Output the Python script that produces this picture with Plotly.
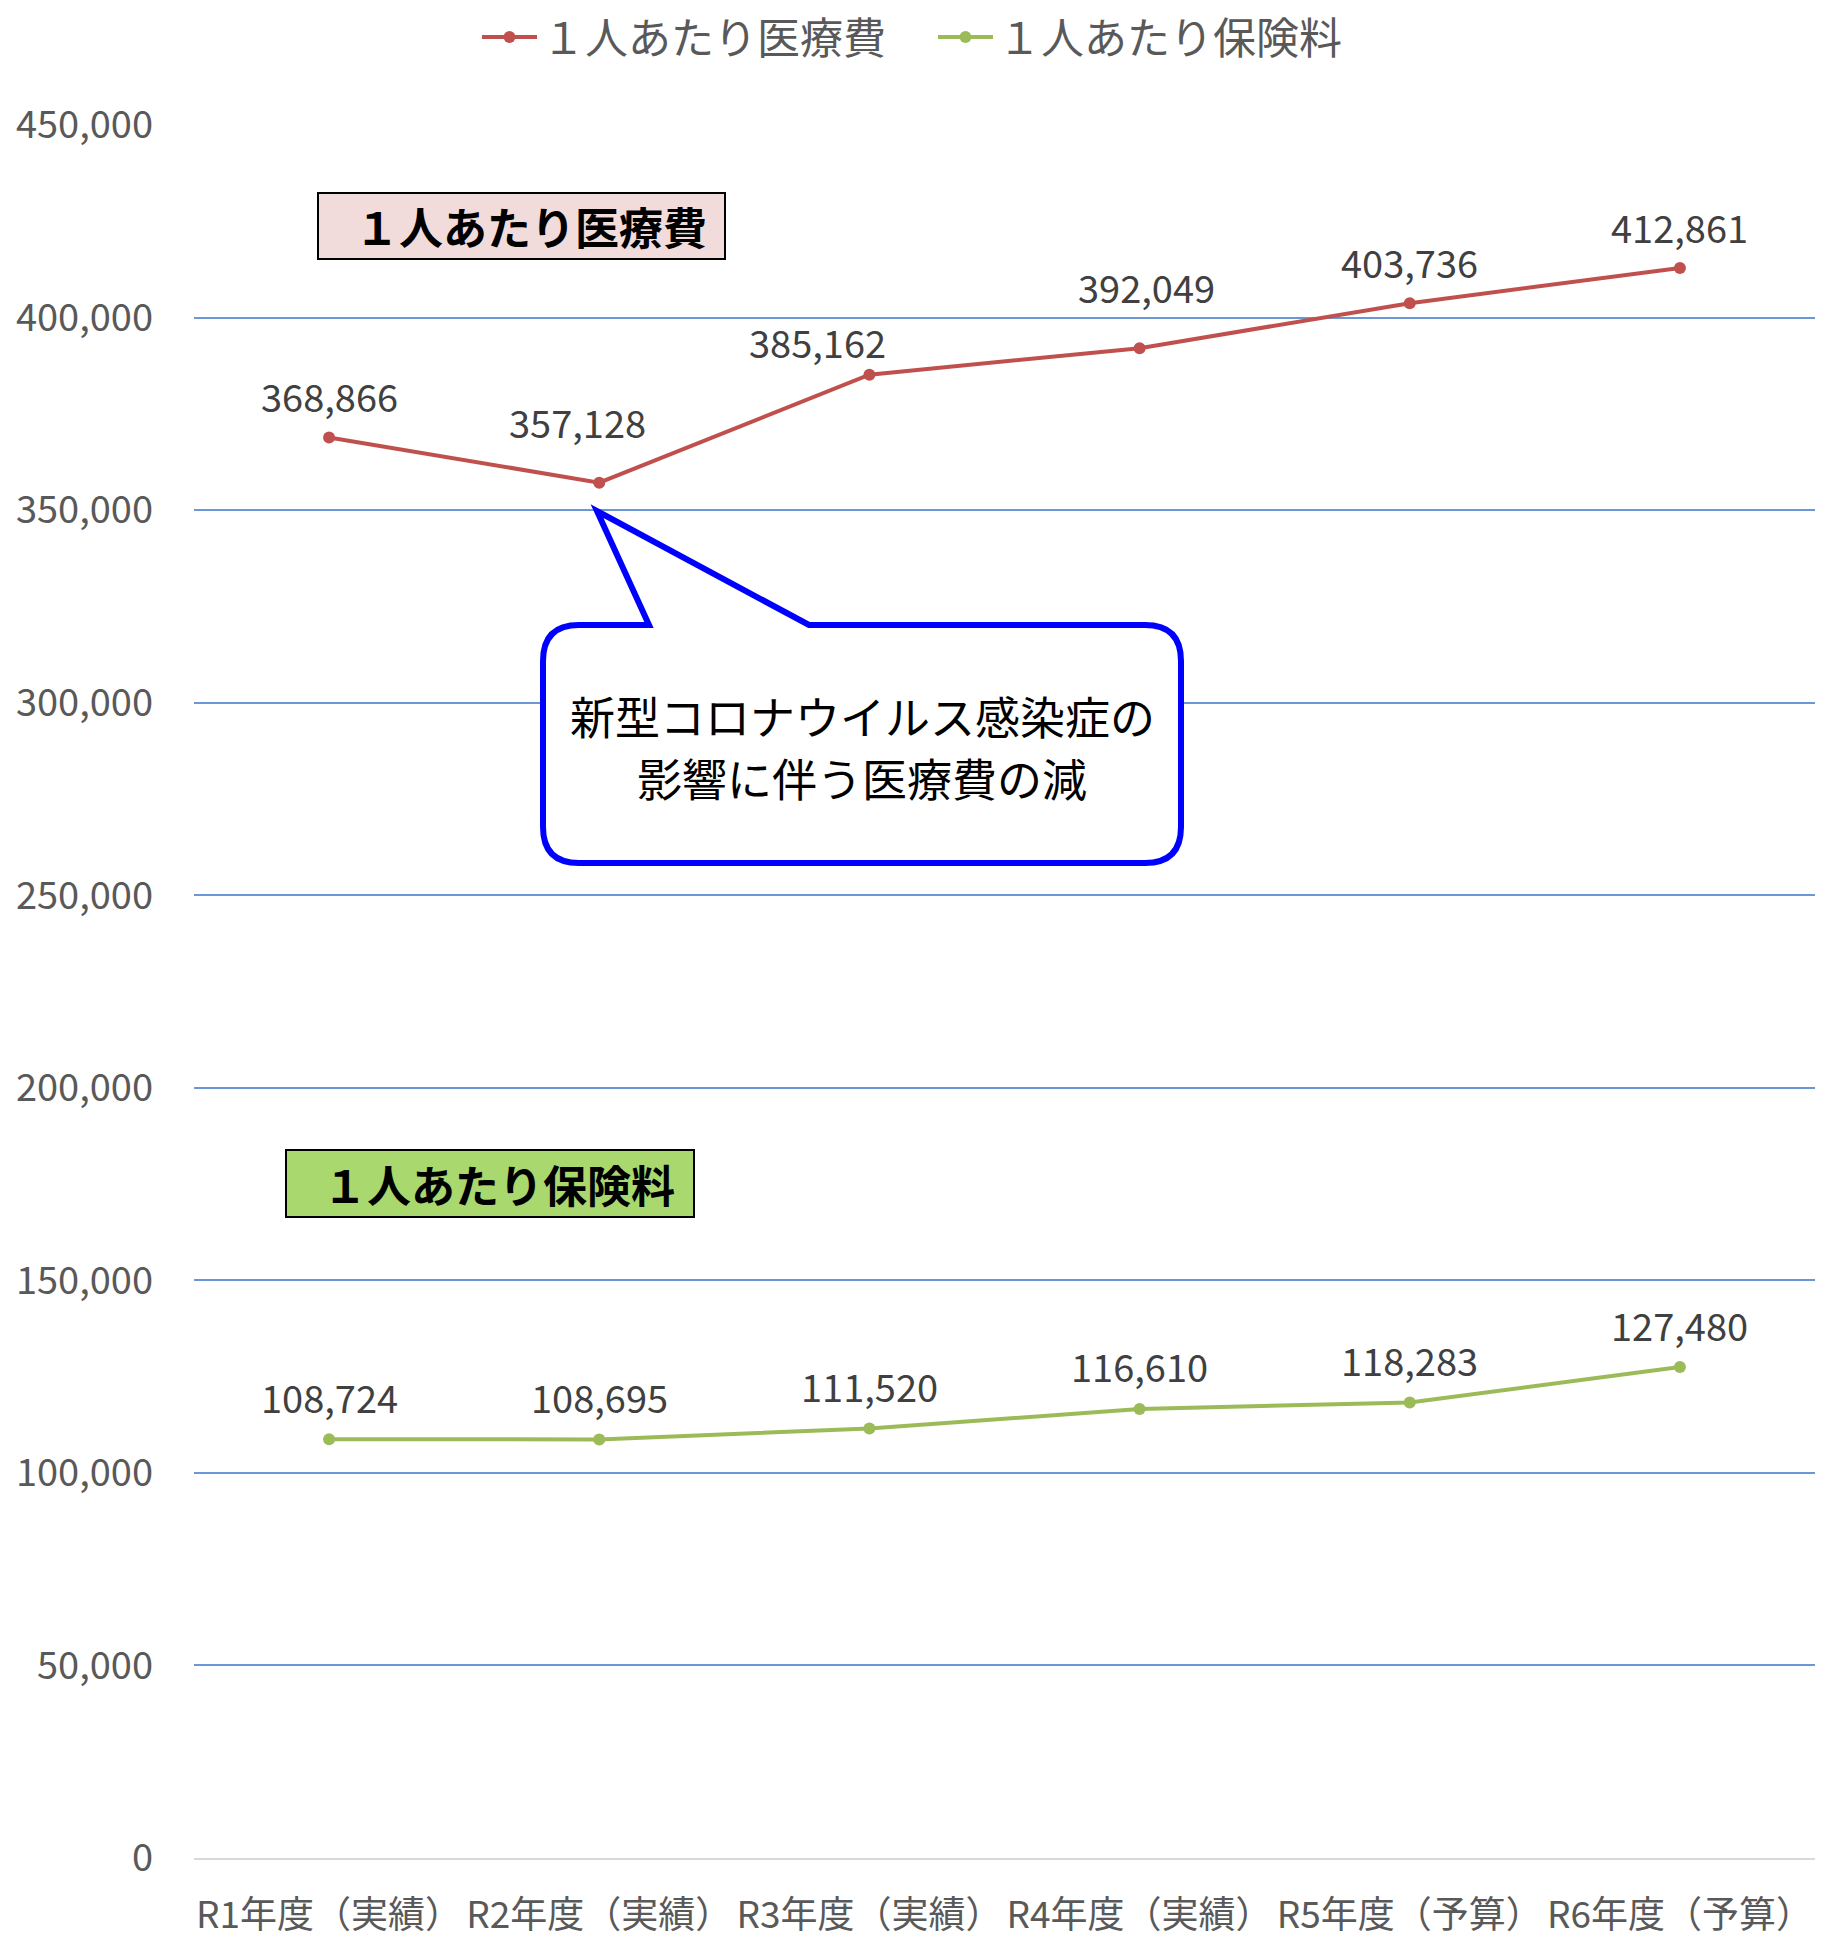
import plotly.graph_objects as go

# ---- data ----
categories = ["R1年度（実績）", "R2年度（実績）", "R3年度（実績）",
              "R4年度（実績）", "R5年度（予算）", "R6年度（予算）"]
medical_cost = [368866, 357128, 385162, 392049, 403736, 412861]
premium = [108724, 108695, 111520, 116610, 118283, 127480]
series_names = ["１人あたり医療費", "１人あたり保険料"]
y_ticks = [0, 50000, 100000, 150000, 200000, 250000, 300000, 350000, 400000, 450000]
callout_lines = ["新型コロナウイルス感染症の", "影響に伴う医療費の減"]

# ---- layout geometry (pixels) ----
W, H = 1827, 1939
L, R, T, B = 194, 1815, 125, 1858
RED, GREEN = "#c0504d", "#9bbb59"
FONT = "Noto Sans CJK JP"


def px(x):
    return (x - L) / (R - L)


def py(y):
    return (B - y) / (B - T)


# label offsets (pixels) for the red series, as in the original
red_dx = [0, -22, -52, 7, 0, 0]
red_dy = [42, 61, 33, 62, 42, 42]
green_dy = [43, 43, 43, 43, 43, 43]

fig = go.Figure()
fig.add_trace(go.Scatter(x=categories, y=medical_cost, name=series_names[0],
                         mode="lines+markers",
                         line=dict(color=RED, width=4),
                         marker=dict(color=RED, size=12)))
fig.add_trace(go.Scatter(x=categories, y=premium, name=series_names[1],
                         mode="lines+markers",
                         line=dict(color=GREEN, width=4),
                         marker=dict(color=GREEN, size=12)))

LABEL_FONT = dict(family=FONT, size=38, color="#404040")
annotations = []
for i, (c, v) in enumerate(zip(categories, medical_cost)):
    annotations.append(dict(x=c, y=v, xref="x", yref="y", text=f"{v:,}",
                            showarrow=False, xshift=red_dx[i], yshift=red_dy[i],
                            xanchor="center", yanchor="middle", font=LABEL_FONT))
for i, (c, v) in enumerate(zip(categories, premium)):
    annotations.append(dict(x=c, y=v, xref="x", yref="y", text=f"{v:,}",
                            showarrow=False, yshift=green_dy[i],
                            xanchor="center", yanchor="middle", font=LABEL_FONT))

# label boxes
shapes = [
    dict(type="rect", xref="paper", yref="paper",
         x0=px(318), x1=px(725), y0=py(259), y1=py(193),
         fillcolor="#f2dcdb", line=dict(color="#000000", width=2), layer="above"),
    dict(type="rect", xref="paper", yref="paper",
         x0=px(286), x1=px(694), y0=py(1217), y1=py(1150),
         fillcolor="#a9d86e", line=dict(color="#000000", width=2), layer="above"),
]
annotations.append(dict(x=px(531), y=py(226), xref="paper", yref="paper",
                        xanchor="center", yanchor="middle",
                        text="<b>" + series_names[0] + "</b>", showarrow=False,
                        font=dict(family=FONT, size=44, color="#000000")))
annotations.append(dict(x=px(499), y=py(1184), xref="paper", yref="paper",
                        xanchor="center", yanchor="middle",
                        text="<b>" + series_names[1] + "</b>", showarrow=False,
                        font=dict(family=FONT, size=44, color="#000000")))

# callout balloon
left, right, top, bottom, r = 543, 1181, 625, 863, 36
bl, br, tip = 649, 809, (597, 511)
pts = [
    ("M", [(left + r, top)]),
    ("L", [(bl, top)]),
    ("L", [tip]),
    ("L", [(br, top)]),
    ("L", [(right - r, top)]),
    ("Q", [(right, top), (right, top + r)]),
    ("L", [(right, bottom - r)]),
    ("Q", [(right, bottom), (right - r, bottom)]),
    ("L", [(left + r, bottom)]),
    ("Q", [(left, bottom), (left, bottom - r)]),
    ("L", [(left, top + r)]),
    ("Q", [(left, top), (left + r, top)]),
]
path = " ".join(cmd + " " + " ".join(f"{px(a):.5f},{py(b):.5f}" for a, b in p)
                for cmd, p in pts) + " Z"
shapes.append(dict(type="path", xref="paper", yref="paper", path=path,
                   fillcolor="#ffffff", line=dict(color="#0000ff", width=6),
                   layer="above"))
for k, yy in enumerate([715, 777]):
    annotations.append(dict(x=px(862), y=py(yy), xref="paper", yref="paper",
                            xanchor="center", yanchor="middle",
                            text=callout_lines[k], showarrow=False,
                            font=dict(family=FONT, size=45, color="#000000")))

fig.update_layout(
    width=W, height=H,
    margin=dict(l=L, r=W - R, t=T, b=H - B, pad=0, autoexpand=False),
    paper_bgcolor="#ffffff", plot_bgcolor="#ffffff",
    font=dict(family=FONT, color="#595959"),
    showlegend=True,
    legend=dict(orientation="h", xref="container", yref="container",
                x=933 / W, xanchor="center",
                y=1 - 37 / H, yanchor="middle",
                font=dict(family=FONT, size=43, color="#595959"),
                itemwidth=55, entrywidth=386, entrywidthmode="pixels",
                bgcolor="rgba(0,0,0,0)", tracegroupgap=0),
    xaxis=dict(type="category", categoryorder="array", categoryarray=categories,
               range=[-0.5, len(categories) - 0.5],
               showgrid=False, zeroline=False, showline=True,
               linecolor="#d9d9d9", linewidth=2,
               ticks="", ticklabelstandoff=24, tickangle=0,
               tickfont=dict(family=FONT, size=37, color="#595959")),
    yaxis=dict(range=[0, 450000], tickvals=y_ticks,
               ticktext=[f"{v:,}" for v in y_ticks],
               showgrid=True, gridcolor="#6b98d4", gridwidth=2,
               zeroline=False, showline=False,
               ticks="", ticklabelstandoff=40,
               tickfont=dict(family=FONT, size=38, color="#595959")),
    shapes=shapes,
    annotations=annotations,
)

fig.write_html("out.html", config={"displayModeBar": False},
               post_script="document.body.style.margin='0';document.body.style.padding='0';")
